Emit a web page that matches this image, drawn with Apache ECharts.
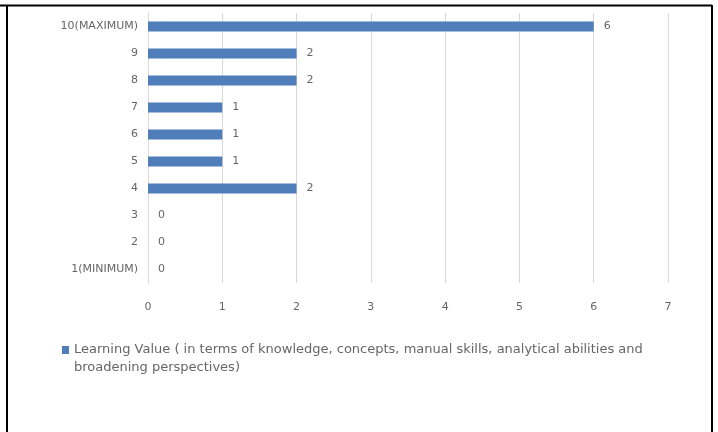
<!DOCTYPE html>
<html><head><meta charset="utf-8">
<script src="https://cdn.jsdelivr.net/npm/echarts@6/dist/echarts.min.js"></script>
<style>html,body{margin:0;padding:0;background:#fff}#c{width:718px;height:432px}</style>
</head><body><div id="c"></div>
<script>
const categories = ['1(MINIMUM)','2','3','4','5','6','7','8','9','10(MAXIMUM)'];
const values = [0,0,0,2,1,1,1,2,2,6];
const seriesName = 'Learning Value ( in terms of knowledge, concepts, manual skills, analytical abilities and broadening perspectives)';
const xTicks = [0,1,2,3,4,5,6,7];

const chart = echarts.init(document.getElementById('c'));
const font = 'DejaVu Sans, sans-serif';
const gray = '#666666';
chart.setOption({
  animation: false,
  grid: {left: 148, right: 50, top: 13, bottom: 149},
  xAxis: {
    type: 'value', min: xTicks[0], max: xTicks[xTicks.length-1], interval: 1,
    axisLine: {show: false}, axisTick: {show: false},
    splitLine: {lineStyle: {color: '#d9d9d9', width: 1}},
    axisLabel: {color: gray, fontSize: 11, fontFamily: font, margin: 19}
  },
  yAxis: {
    type: 'category', data: categories,
    axisLine: {show: true, lineStyle: {color: '#d9d9d9'}}, axisTick: {show: false},
    axisLabel: {color: gray, fontSize: 11, fontFamily: font, margin: 10}
  },
  legend: {
    left: 57, top: 336, itemWidth: 7, itemHeight: 26,
    icon: 'path://M0,0L7,0L7,8L0,8Z M0,26L7,26',
    formatter: n => n.replace(' and ', ' and\n'),
    textStyle: {color: '#666', fontSize: 13, fontFamily: font, lineHeight: 18}
  },
  series: [{
    name: seriesName, type: 'bar', data: values, barWidth: 10,
    itemStyle: {color: '#4F7EBB'},
    label: {show: true, position: 'right', distance: 10, color: gray, fontSize: 11, fontFamily: font}
  }],
  graphic: [
    {type: 'line', shape: {x1: 0, y1: 5.5, x2: 712, y2: 5.5}, style: {stroke: '#000', lineWidth: 2}},
    {type: 'line', shape: {x1: 7, y1: 5, x2: 7, y2: 432}, style: {stroke: '#000', lineWidth: 2}},
    {type: 'line', shape: {x1: 712, y1: 5, x2: 712, y2: 432}, style: {stroke: '#000', lineWidth: 2}}
  ]
});
</script></body></html>
